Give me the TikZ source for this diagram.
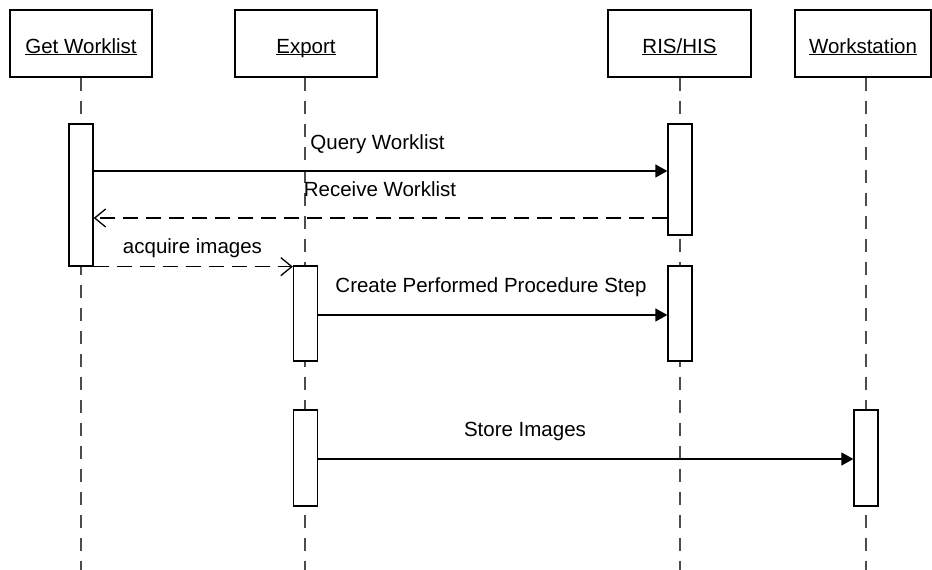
\documentclass[tikz,border=0pt]{standalone}
\usepackage{fontspec}
\setmainfont{Liberation Sans}
\usetikzlibrary{arrows.meta,calc}

\newcommand{\uname}[1]{\underline{\smash{#1}}}

\begin{document}
\begin{tikzpicture}[x=1pt,y=-1pt,
		font=\fontsize{20.5}{24}\selectfont,
		actor/.style={draw,line width=1.3pt,minimum height=67pt,inner sep=0pt,text height=19pt,text depth=0pt},
		act/.style={draw,fill=white,line width=1.3pt,minimum width=24pt,inner sep=0pt},
		life/.style={line width=1.3pt,black!70,dash pattern=on 13pt off 10pt},
		call/.style={line width=1.3pt,-{Triangle[length=12pt,width=13pt]}},
		reply/.style={line width=1.3pt,dash pattern=on 15pt off 8pt,-{Straight Barb[length=11pt,width=18pt]}}]
		\useasboundingbox (0,0) rectangle (932,570);
		% participants
		\node[actor,minimum width=142pt] (gw) at (81,43.5) {\uname{Get Worklist}};
		\node[actor,minimum width=142pt] (ex) at (306,43.5) {\uname{Export}};
		\node[actor,minimum width=143pt] (ris) at (679.5,43.5) {\uname{RIS/HIS}};
		\node[actor,minimum width=136pt] (ws) at (863,43.5) {\uname{Workstation}};
		\coordinate (gwEnd) at (81,570);
		\coordinate (exEnd) at (305,570);
		\coordinate (risEnd) at (680,570);
		\coordinate (wsEnd) at (866,570);
		\draw[life] (gw.south) -- (gwEnd);
		\draw[life] (ex.south -| exEnd) -- (exEnd);
		\draw[life] (ris.south -| risEnd) -- (risEnd);
		\draw[life] (ws.south -| wsEnd) -- (wsEnd);
		% activations
		\node[act,minimum height=142pt] (actGW) at (81,195) {};
		\node[act,minimum height=111pt] (actRIS1) at (680,179.5) {};
		\node[act,minimum height=95pt] (actEx1) at (305.5,313.5) {};
		\node[act,minimum height=95pt] (actRIS2) at (680,313.5) {};
		\node[act,minimum height=96pt] (actEx2) at (305.5,458) {};
		\node[act,minimum height=96pt] (actWS) at (866,458) {};
		% messages
		\draw[call] (actGW.east |- 0,171) -- (actRIS1.west |- 0,171);
		\draw[reply] (actRIS1.west |- 0,218) -- (actGW.east |- 0,218);
		\draw[reply] (actGW.south east) -- (actGW.south east -| actEx1.west);
		\draw[call] (actEx1.east |- 0,315) -- (actRIS2.west |- 0,315);
		\draw[call] (actEx2.east |- 0,459) -- (actWS.west |- 0,459);
		\node[anchor=base] (query) at (377.5,149) {Query Worklist};
		\node[anchor=base] (receive) at (380,196) {Receive Worklist};
		\node[anchor=base] (acquire) at (192.5,253) {acquire images};
		\node[anchor=base] (create) at (491,292) {Create Performed Procedure Step};
		\node[anchor=base] (store) at (525,436) {Store Images};
	\end{tikzpicture}
\end{document}
